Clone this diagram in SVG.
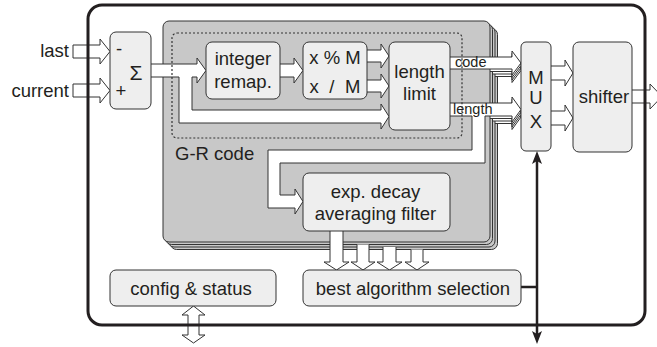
<svg xmlns="http://www.w3.org/2000/svg" width="657" height="347" viewBox="0 0 657 347">
<style>
.box{fill:#eeeeee;stroke:#333;stroke-width:1}
.panel{fill:#c8c8c8;stroke:#333;stroke-width:1}
.arr{fill:#fff;stroke:#333;stroke-width:1}
.t{font-family:"Liberation Sans",Arial,sans-serif;font-size:18.5px;fill:#231f20}
.c{text-anchor:middle}
.s{font-size:14.5px}
.ctl{stroke:#231f20;stroke-width:2.5;fill:none}
</style>
<rect width="657" height="347" fill="#fff"/>
<g id="gr-code-panel">
<rect class="panel" x="170.5" y="28.5" width="327" height="221" rx="6"/>
<path class="arr" d="M450,64.5 H512 V58.5 L521,70.5 L512,82.5 V76.5 H450"/>
<path class="arr" d="M450,110.5 H512 V104.5 L521,117 L512,129.5 V123.5 H450"/>
<rect class="panel" x="168" y="26" width="327" height="221" rx="6"/>
<path class="arr" d="M450,62 H512 V56 L521,68 L512,80 V74 H450"/>
<path class="arr" d="M450,108 H512 V102 L521,114.5 L512,127 V121 H450"/>
<rect class="panel" x="165.5" y="23.5" width="327" height="221" rx="6"/>
<path class="arr" d="M450,59.5 H512 V53.5 L521,65.5 L512,77.5 V71.5 H450"/>
<path class="arr" d="M450,105.5 H512 V99.5 L521,112 L512,124.5 V118.5 H450"/>
<rect class="panel" x="163" y="21" width="327" height="221" rx="6"/>
<text class="t" x="175" y="160">G-R code</text>
</g>
<g id="connectors">
<path class="arr" d="M73,45 H100 V39 L110,51.5 L100,64 V58 H73 Z"/>
<path class="arr" d="M73,84 H100 V78 L110,90.5 L100,103 V97 H73 Z"/>
<path class="arr" d="M151,64 H197 V58 L206,70.5 L197,83 V77 H192 V110 H381 V104 L389,116.5 L381,129 V123 H179 V77 H151"/>
<path class="arr" d="M280,64 H294 V58 L303,70.5 L294,83 V77 H280"/>
<path class="arr" d="M367,50 H381 V44 L389,56 L381,68 V62 H367"/>
<path class="arr" d="M367,80 H381 V74 L389,86 L381,98 V92 H367"/>
<path class="arr" d="M450,57 H512 V51 L521,63 L512,75 V69 H450"/>
<path class="arr" d="M450,103 H512 V97 L521,109.5 L512,122 V116 H485 V163 H280 V195 H295 V189 L303,201.5 L295,214 V208 H268 V150 H472 V116 H450"/>
<path class="arr" d="M551,66 H565 V60 L573,73 L565,86 V80 H551"/>
<path class="arr" d="M551,111 H565 V105 L573,118 L565,131 V125 H551"/>
<path class="arr" d="M632,90 H650 V84 L662,96.5 L650,109 V103 H632"/>
<path class="arr" d="M330,231 V262 H324 L336.5,270 L349,262 H343 V231"/>
<path class="arr" d="M357,244.5 V262 H351 L363,270 L375,262 H369 V244.5"/>
<path class="arr" d="M383,247 V262 H377 L389.5,270 L402,262 H396 V247"/>
<path class="arr" d="M411,249.5 V262 H405 L417,270 L429,262 H423 V249.5"/>
<path class="arr" d="M193.5,306 L205,315 H199 V335 H205 L193.5,343 L182,335 H188 V315 H182 Z"/>
<path class="ctl" d="M537,160 V334 M521,287 H537"/>
<path fill="#231f20" d="M537,151 L542,164 L537,161 L532,164 Z"/>
<path fill="#231f20" d="M537,344 L532,331 L537,334 L542,331 Z"/>
<text class="t s" x="455" y="67">code</text>
<text class="t s" x="453" y="114">length</text>
</g>
<g id="sum">
<rect class="box" x="110" y="32" width="41" height="77" rx="6"/>
<text class="t" x="116" y="55">-</text>
<text class="t" x="115.5" y="97">+</text>
<text class="t c" x="136" y="80" style="font-size:21px">Σ</text>
</g>
<g id="inputs">
<text class="t" x="69" y="57" text-anchor="end">last</text>
<text class="t" x="69" y="97" text-anchor="end">current</text>
</g>
<g id="integer-remap">
<rect class="box" x="206" y="42" width="74" height="57" rx="6"/>
<text class="t c" x="243" y="65">integer</text>
<text class="t c" x="243" y="88">remap.</text>
</g>
<g id="mod-div">
<rect class="box" x="303" y="42" width="64" height="57" rx="6"/>
<text class="t c" x="335" y="64">x % M</text>
<text class="t c" x="335" y="93" word-spacing="5.5">x / M</text>
</g>
<g id="length-limit">
<rect class="box" x="389" y="42" width="61" height="88" rx="6"/>
<text class="t c" x="419.5" y="78">length</text>
<text class="t c" x="419.5" y="100">limit</text>
</g>
<g id="mux">
<rect class="box" x="521" y="42" width="30" height="109" rx="5"/>
<text class="t c" x="536" y="84">M</text>
<text class="t c" x="536" y="104">U</text>
<text class="t c" x="536" y="128">X</text>
</g>
<g id="shifter">
<rect class="box" x="573" y="42" width="59" height="110" rx="6"/>
<text class="t c" x="604" y="103">shifter</text>
</g>
<g id="filter">
<rect class="box" x="303" y="173" width="147" height="58" rx="6"/>
<text class="t c" x="375.5" y="198">exp. decay</text>
<text class="t c" x="375.5" y="220">averaging filter</text>
</g>
<g id="best-algorithm">
<rect class="box" x="303" y="270" width="218" height="36" rx="6"/>
<text class="t c" x="413" y="295">best algorithm selection</text>
</g>
<g id="config">
<rect class="box" x="110" y="270" width="166" height="36" rx="6"/>
<text class="t c" x="191" y="295">config &amp; status</text>
</g>
<rect x="172" y="33" width="290" height="105" rx="5" fill="none" stroke="#333" stroke-width="1.2" stroke-dasharray="2,2"/>
<rect id="outer" x="88" y="5" width="557" height="320" rx="14" fill="none" stroke="#231f20" stroke-width="3"/>
</svg>
